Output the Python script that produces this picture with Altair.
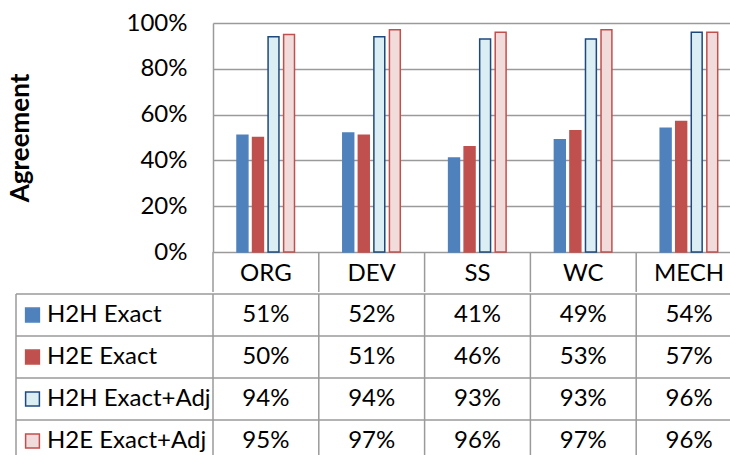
import altair as alt
import pandas as pd

categories = ["ORG", "DEV", "SS", "WC", "MECH"]
series_names = ["H2H Exact", "H2E Exact", "H2H Exact+Adj", "H2E Exact+Adj"]
h2h_exact = [0.51, 0.52, 0.41, 0.49, 0.54]
h2e_exact = [0.50, 0.51, 0.46, 0.53, 0.57]
h2h_exact_adj = [0.94, 0.94, 0.93, 0.93, 0.96]
h2e_exact_adj = [0.95, 0.97, 0.96, 0.97, 0.96]
y_ticks = [0, 0.2, 0.4, 0.6, 0.8, 1.0]

fills = ["#4F81BD", "#C0504D", "#DBEEF4", "#F2DCDB"]
strokes = ["#4F81BD", "#C0504D", "#1F497D", "#C0504D"]

rows = []
for s, vals in zip(series_names, [h2h_exact, h2e_exact, h2h_exact_adj, h2e_exact_adj]):
    for c, v in zip(categories, vals):
        rows.append({"series": s, "category": c, "value": v})
df = pd.DataFrame(rows)
labels_df = pd.DataFrame({"series": series_names})
cat_df = pd.DataFrame({"category": categories})
one_df = pd.DataFrame({"k": [0]})

GRID = "#9A9A9A"
FONT = "Lato"
FS = 24
PLOT_W = 529      # five columns; the last one runs off the window edge
PLOT_H = 229
HEADER_H = 40
TABLE_H = 168
LABEL_COL = 197

xscale = alt.Scale(domain=categories, paddingInner=0, paddingOuter=0)
fill_scale = alt.Scale(domain=series_names, range=fills)
stroke_scale = alt.Scale(domain=series_names, range=strokes)
yscale_t = alt.Scale(domain=series_names, paddingInner=0, paddingOuter=0)

x_axis = alt.Axis(title=None, labelAngle=0, ticks=False, domain=False, grid=False,
                  labelFont=FONT, labelFontSize=FS, labelColor="black",
                  labelBaseline="middle", labelPadding=21)

bars = alt.Chart(df).mark_bar(strokeWidth=1.5).encode(
    x=alt.X("category:N", scale=xscale, sort=categories, axis=x_axis),
    xOffset=alt.XOffset("series:N", sort=series_names,
                        scale=alt.Scale(domain=series_names, range=[24, 81.5],
                                        paddingInner=0.3, paddingOuter=0)),
    y=alt.Y("value:Q", scale=alt.Scale(domain=[0, 1]),
            axis=alt.Axis(title="Agreement", format="%", values=y_ticks, ticks=False,
                          domainColor=GRID, domainWidth=1.5, gridColor=GRID, gridWidth=1.5,
                          labelFont=FONT, labelFontSize=FS, labelColor="black", labelPadding=26,
                          titleFont=FONT, titleFontSize=26, titleFontWeight="bold",
                          titleColor="black", titlePadding=93)),
    fill=alt.Fill("series:N", scale=fill_scale, legend=None),
    stroke=alt.Stroke("series:N", scale=stroke_scale, legend=None),
)

header_rules = alt.Chart(cat_df).mark_rule(color=GRID, strokeWidth=1.5).encode(
    x=alt.X("category:N", scale=xscale, sort=categories, bandPosition=0, axis=x_axis),
    y=alt.value(PLOT_H),
    y2=alt.value(PLOT_H + HEADER_H),
)

top = alt.layer(bars, header_rules).properties(width=PLOT_W, height=PLOT_H)

table_text = alt.Chart(df).mark_text(font=FONT, fontSize=FS, color="black", baseline="middle").encode(
    x=alt.X("category:N", scale=xscale, sort=categories, axis=None),
    y=alt.Y("series:N", scale=yscale_t, sort=series_names, axis=None),
    text=alt.Text("value:Q", format=".0%"),
)

v_lines = alt.Chart(cat_df).mark_rule(color=GRID, strokeWidth=1.5).encode(
    x=alt.X("category:N", scale=xscale, sort=categories, bandPosition=0, axis=None),
    y=alt.value(0),
    y2=alt.value(TABLE_H),
)

h_lines = alt.Chart(labels_df).mark_rule(color=GRID, strokeWidth=1.5).encode(
    y=alt.Y("series:N", scale=yscale_t, sort=series_names, bandPosition=0, axis=None),
    x=alt.value(-LABEL_COL),
    x2=alt.value(PLOT_W),
)

left_border = alt.Chart(one_df).mark_rule(color=GRID, strokeWidth=1.5).encode(
    x=alt.value(-LABEL_COL),
    y=alt.value(0),
    y2=alt.value(TABLE_H),
)

swatches = alt.Chart(labels_df).mark_point(shape="square", filled=True, size=190, strokeWidth=1.5, opacity=1).encode(
    x=alt.value(-180.5),
    y=alt.Y("series:N", scale=yscale_t, sort=series_names, axis=None),
    fill=alt.Fill("series:N", scale=fill_scale, legend=None),
    stroke=alt.Stroke("series:N", scale=stroke_scale, legend=None),
)

row_labels = alt.Chart(labels_df).mark_text(font=FONT, fontSize=FS, color="black", align="left", baseline="middle").encode(
    x=alt.value(-166),
    y=alt.Y("series:N", scale=yscale_t, sort=series_names, axis=None),
    text="series:N",
)

table = alt.layer(h_lines, v_lines, left_border, swatches, row_labels, table_text).properties(
    width=PLOT_W, height=TABLE_H)

# autosize "none": page is exactly 730x455; the last column is cut at the right edge
chart = alt.vconcat(top, table, spacing=0).properties(
    autosize=alt.AutoSizeParams(type="none"),
    padding={"left": 213, "top": 23, "right": -12, "bottom": 432},
    background="white",
).configure_view(stroke=None)

chart.save("out.html", embed_options={"renderer": "svg", "actions": False})
